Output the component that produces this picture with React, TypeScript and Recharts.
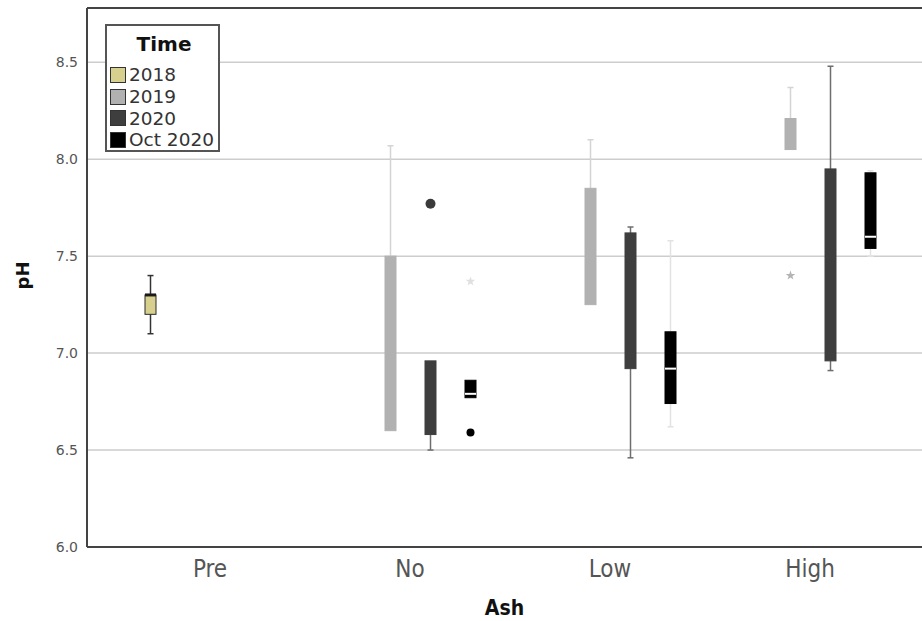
import React from "react";
import {
  Bar,
  CartesianGrid,
  ComposedChart,
  Legend,
  ReferenceLine,
  XAxis,
  YAxis,
} from "recharts";

const categories = ["Pre", "No", "Low", "High"];
const times = ["2018", "2019", "2020", "Oct 2020"];

// [min, q1, median, q3, max] per category, null = no data
const box2018 = [[7.1, 7.2, 7.3, 7.3, 7.4], null, null, null];
const box2019 = [null, [6.6, 6.6, null, 7.5, 8.07], [7.25, 7.25, null, 7.85, 8.1], [8.05, 8.05, null, 8.21, 8.37]];
const box2020 = [null, [6.5, 6.58, null, 6.96, 6.96], [6.46, 6.92, null, 7.62, 7.65], [6.91, 6.96, null, 7.95, 8.48]];
const boxOct2020 = [null, [6.77, 6.77, 6.79, 6.86, 6.86], [6.62, 6.74, 6.92, 7.11, 7.58], [7.5, 7.54, 7.6, 7.93, 7.94]];

// outliers (circles) and extremes (stars)
const circles2020 = [null, 7.77, null, null];
const circlesOct2020 = [null, 6.59, null, null];
const stars2019 = [null, null, null, 7.4];
const starsOct2020 = [null, 7.37, null, null];

const yTicks = [6.0, 6.5, 7.0, 7.5, 8.0, 8.5];
const Y_MIN = 6;
const Y_MAX = 8.78;

const STYLES = [
  { fill: "#d6cf8d", stroke: "#2a2a2a", whisker: "#333333", median: "#1a1a1a", medianWidth: 3, dot: "#333", star: "#bbb" },
  { fill: "#b1b1b1", stroke: "#b1b1b1", whisker: "#d4d4d4", median: null, medianWidth: 0, dot: "#999", star: "#b4b4b4" },
  { fill: "#3e3e3e", stroke: "#3e3e3e", whisker: "#6e6e6e", median: null, medianWidth: 0, dot: "#3a3a3a", star: "#bbb" },
  { fill: "#000000", stroke: "#000000", whisker: "#e2e2e2", median: "#ffffff", medianWidth: 2, dot: "#000", star: "#e0e0e0" },
];

const boxes = [box2018, box2019, box2020, boxOct2020];
const circles = [[null, null, null, null], [null, null, null, null], circles2020, circlesOct2020];
const stars = [[null, null, null, null], stars2019, [null, null, null, null], starsOct2020];

const data = categories.map((cat, i) => {
  const row: any = { cat };
  boxes.forEach((b, t) => {
    row[`s${t}`] = b[i];
    row[`c${t}`] = circles[t][i];
    row[`x${t}`] = stars[t][i];
  });
  return row;
});

// asterisk-like extreme marker
function starPath(cx: number, cy: number, r: number) {
  const pts: string[] = [];
  for (let k = 0; k < 10; k++) {
    const rad = k % 2 === 0 ? r : r * 0.4;
    const a = -Math.PI / 2 + (k * Math.PI) / 5;
    pts.push(`${cx + rad * Math.cos(a)},${cy + rad * Math.sin(a)}`);
  }
  return `M${pts.join("L")}Z`;
}

const makeBoxShape = (t: number) => (props: any) => {
  const { x, y, width, height, payload } = props;
  const s = payload[`s${t}`];
  if (!s || height == null) return <g />;
  const [min, q1, med, q3, max] = s;
  const st = STYLES[t];
  const top = Math.min(y, y + height);
  const h = Math.abs(height);
  const ppu = h / (q3 - q1);
  const yOf = (v: number) => top + (q3 - v) * ppu;
  const cx = x + width / 2;
  const cap = 3;
  const circle = payload[`c${t}`];
  const star = payload[`x${t}`];
  return (
    <g>
      {max > q3 && (
        <>
          <line x1={cx} x2={cx} y1={yOf(max)} y2={top} stroke={st.whisker} strokeWidth={1.5} />
          <line x1={cx - cap} x2={cx + cap} y1={yOf(max)} y2={yOf(max)} stroke={st.whisker} strokeWidth={1.5} />
        </>
      )}
      {min < q1 && (
        <>
          <line x1={cx} x2={cx} y1={top + h} y2={yOf(min)} stroke={st.whisker} strokeWidth={1.5} />
          <line x1={cx - cap} x2={cx + cap} y1={yOf(min)} y2={yOf(min)} stroke={st.whisker} strokeWidth={1.5} />
        </>
      )}
      <rect x={x} y={top} width={width} height={h} fill={st.fill} stroke={st.stroke} strokeWidth={1} />
      {med != null && st.median && (
        <line x1={x} x2={x + width} y1={yOf(med)} y2={yOf(med)} stroke={st.median} strokeWidth={st.medianWidth} />
      )}
      {circle != null && <circle cx={cx} cy={yOf(circle)} r={t === 2 ? 5 : 4} fill={st.dot} />}
      {star != null && <path d={starPath(cx, yOf(star), 5)} fill={st.star} />}
    </g>
  );
};

const renderLegend = () => (
  <div
    style={{
      border: "2px solid #555",
      background: "#fff",
      width: 115,
      height: 128,
      boxSizing: "border-box",
      fontFamily: "DejaVu Sans, sans-serif",
      color: "#333",
      padding: "4px 0 0 3px",
    }}
  >
    <div style={{ textAlign: "center", fontWeight: "bold", fontSize: 20, color: "#111", height: 34, lineHeight: "29px" }}>
      Time
    </div>
    {times.map((t, i) => (
      <div key={t} style={{ display: "flex", alignItems: "center", height: 21.7, fontSize: 18.5 }}>
        <span
          style={{
            display: "inline-block",
            width: 16,
            height: 16,
            background: STYLES[i].fill,
            border: "1.5px solid #333",
            boxSizing: "border-box",
            marginRight: 3,
          }}
        />
        {t}
      </div>
    ))}
  </div>
);

const PhLabel = (props: any) => {
  const vb = props.viewBox;
  const cx = 22;
  const cy = vb.y + vb.height / 2 - 2;
  return (
    <text
      x={cx}
      y={cy}
      transform={`rotate(-90 ${cx} ${cy})`}
      textAnchor="middle"
      dominantBaseline="central"
      fontFamily="DejaVu Sans, sans-serif"
      fontWeight="bold"
      fontSize={18}
      fill="#111"
    >
      pH
    </text>
  );
};

export default function App() {
  return (
    <div style={{ position: "absolute", left: 0, top: 0, width: 922, height: 621, background: "#fff" }}>
      <ComposedChart
        width={922}
        height={621}
        data={data}
        margin={{ top: 8, right: 0, bottom: 0, left: 0 }}
        barSize={11}
        barGap={29}
      >
        <CartesianGrid horizontal vertical={false} stroke="#cdcdcd" strokeWidth={1.5} />
        <XAxis
          dataKey="cat"
          height={74}
          padding={{ left: 23, right: 12 }}
          tickLine={false}
          tickMargin={7}
          axisLine={{ stroke: "#444", strokeWidth: 2 }}
          tick={{ fill: "#555", fontSize: 24, fontFamily: "DejaVu Sans Condensed, DejaVu Sans, sans-serif" }}
          label={{
            value: "Ash",
            position: "insideBottom",
            offset: 6,
            fill: "#111",
            fontSize: 21,
            fontWeight: "bold",
            fontFamily: "DejaVu Sans Condensed, DejaVu Sans, sans-serif",
          }}
        />
        <YAxis
          width={87}
          type="number"
          domain={[Y_MIN, Y_MAX]}
          allowDataOverflow
          ticks={yTicks}
          interval={0}
          tickFormatter={(v: number) => v.toFixed(1)}
          tickLine={false}
          tickMargin={3}
          axisLine={{ stroke: "#444", strokeWidth: 2 }}
          tick={{ fill: "#555", fontSize: 14, fontFamily: "DejaVu Sans, sans-serif" }}
          label={PhLabel}
        />
        <ReferenceLine y={Y_MAX} stroke="#444" strokeWidth={2} />
        {times.map((t, i) => (
          <Bar
            key={t}
            name={t}
            dataKey={(d: any) => (d[`s${i}`] ? [d[`s${i}`][1], d[`s${i}`][3]] : null)}
            fill={STYLES[i].fill}
            shape={makeBoxShape(i)}
            isAnimationActive={false}
          />
        ))}
        <Legend
          content={renderLegend}
          layout="horizontal"
          verticalAlign="middle"
          align="center"
          wrapperStyle={{ top: 24, left: 105, width: 115 }}
        />
      </ComposedChart>
    </div>
  );
}
